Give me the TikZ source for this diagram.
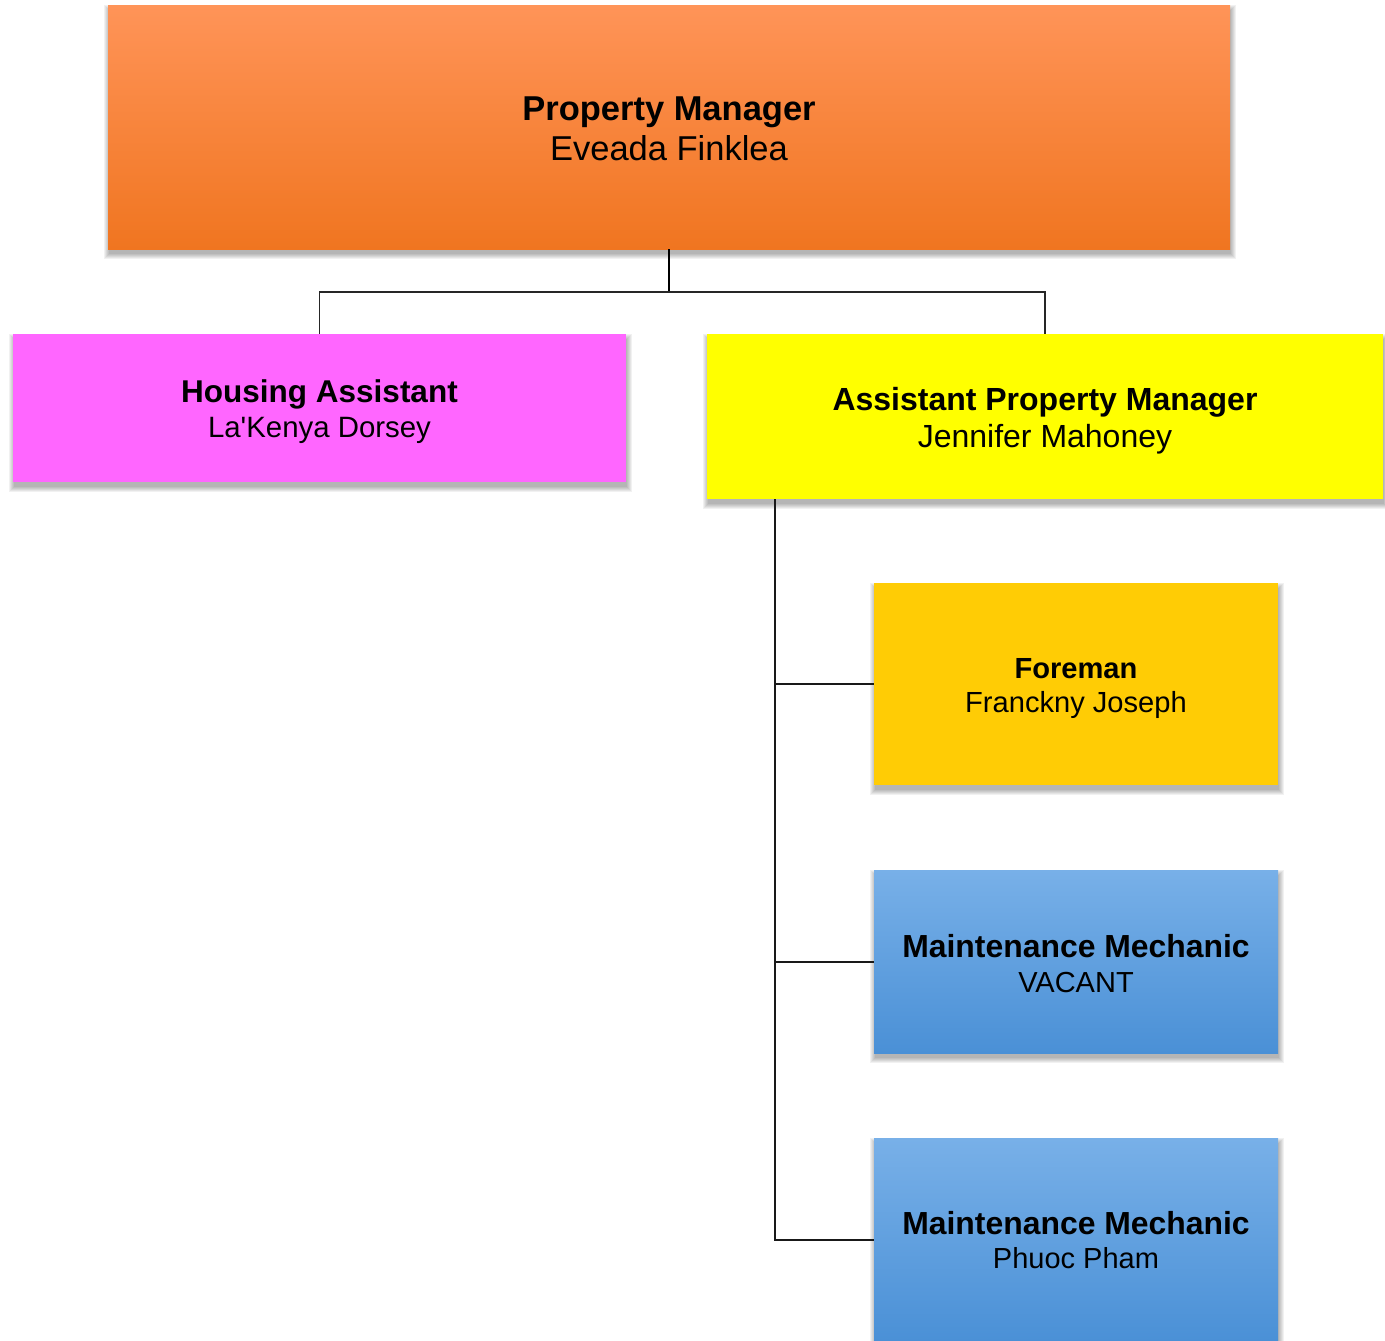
\documentclass[tikz,border=0pt]{standalone}
\usepackage{fontspec}
\defaultfontfeatures{}
\setmainfont{Liberation Sans}[Ligatures=TeXOff]
\usetikzlibrary{backgrounds}
\definecolor{pmtop}{HTML}{FF9458}
\definecolor{pmbot}{HTML}{F07520}
\definecolor{hafill}{HTML}{FF66FF}
\definecolor{apmfill}{HTML}{FFFF00}
\definecolor{fmfill}{HTML}{FFCC05}
\definecolor{mmtop}{HTML}{78B0E8}
\definecolor{mmbot}{HTML}{4A90D6}
\tikzset{
  box/.style={rectangle, inner sep=0pt},
  txt/.style={inner sep=0pt, align=center, text=black},
  conthin/.style={line width=1.4pt, black!85},
  conthick/.style={line width=2.8pt, black},
  branch/.style={line width=2pt, black!90},
}
\newcommand{\fsz}[2]{\fontsize{#1}{#2}\selectfont}
\begin{document}
\begin{tikzpicture}[x=1pt,y=-1pt]
\useasboundingbox (0,0) rectangle (1385,1341);
\node[box, minimum width=1122pt, minimum height=244pt, top color=pmtop, bottom color=pmbot] (pm) at (669,127) {};
\node[box, minimum width=613pt, minimum height=148pt, fill=hafill] (ha) at (319.5,408) {};
\node[box, minimum width=676pt, minimum height=165pt, fill=apmfill] (apm) at (1045,416.5) {};
\node[box, minimum width=404pt, minimum height=202pt, fill=fmfill] (fm) at (1076,684) {};
\node[box, minimum width=404pt, minimum height=183pt, top color=mmtop, bottom color=mmbot] (mm1) at (1076,961.5) {};
\node[box, minimum width=404pt, minimum height=204pt, top color=mmtop, bottom color=mmbot] (mm2) at (1076,1240) {};
\node[txt, font=\fsz{34.5}{40}] (pmt) at ([yshift=-2pt]pm.center) {\textbf{Property Manager}\\Eveada Finklea};
\node[txt, font=\fsz{30.5}{35}] (hat) at ([yshift=-4pt]ha.center) {\fsz{31.5}{35}\textbf{Housing Assistant}\\\fsz{29.4}{35}La'Kenya Dorsey};
\node[txt, font=\fsz{32}{37}] (apmt) at ([yshift=-4pt]apm.center) {\textbf{Assistant Property Manager}\\Jennifer Mahoney};
\node[txt, font=\fsz{29.1}{34}] (fmt) at ([yshift=-5pt]fm.center) {\textbf{Foreman}\\Franckny Joseph};
\node[txt, font=\fsz{30}{34.5}] (mm1t) at ([yshift=-2pt]mm1.center) {\fsz{31.9}{34.5}\textbf{Maintenance Mechanic}\\\fsz{29}{34.5}VACANT};
\node[txt, font=\fsz{30}{34.5}] (mm2t) at (mm2.center) {\fsz{31.9}{34.5}\textbf{Maintenance Mechanic}\\\fsz{29}{34.5}Phuoc Pham};
\begin{scope}[on background layer]
  \foreach \n in {pm,ha,apm,fm,mm1,mm2}{
    \foreach \r in {5,4,3,2,1,0}{
      \fill[black, opacity=0.055] ([shift={(1-\r,5-\r)}]\n.north west) rectangle ([shift={(1+\r,5+\r)}]\n.south east);
    }
  }
\end{scope}
\coordinate (bus) at (669,292);
\coordinate (trunk) at (775,499);
\draw[line width=2pt, black] (pm.south) -- (bus);
\draw[conthin] (bus) -| (ha.north);
\draw[conthin] (bus) -| (apm.north);
\draw[conthick] (trunk) -- (trunk |- mm2.west);
\draw[branch] (trunk) |- (fm.west);
\draw[branch] (trunk) |- (mm1.west);
\draw[branch] (trunk) |- (mm2.west);
\end{tikzpicture}
\end{document}
